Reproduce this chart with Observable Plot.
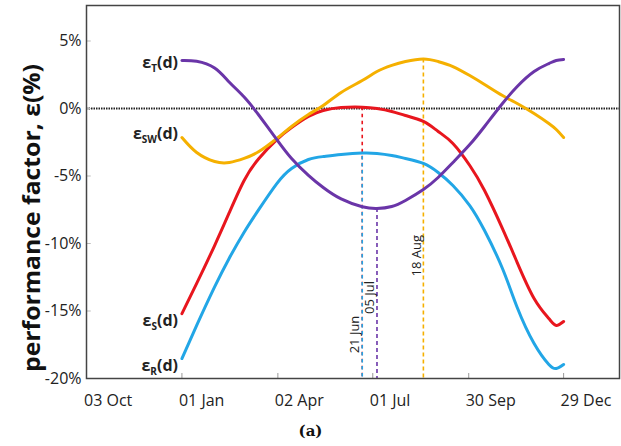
<!DOCTYPE html>
<html>
<head>
<meta charset="utf-8">
<script src="https://cdn.jsdelivr.net/npm/d3@7"></script>
<script src="https://cdn.jsdelivr.net/npm/@observablehq/plot@0.6"></script>
<style>
  html, body { margin: 0; padding: 0; background: #fff; }
  #wrap { width: 621px; height: 446px; position: relative; }
  #cap { position: absolute; left: 0; top: 422px; width: 621px; text-align: center;
         font: bold 15px "DejaVu Serif", "Liberation Serif", serif; color: #111; }
</style>
</head>
<body>
<div id="wrap"><div id="chart"></div><div id="cap">(a)</div></div>
<script>
// day of year (2015)
const days = [1,15,32,46,60,74,91,105,121,135,152,172,186,200,213,230,244,258,274,288,305,319,335,349,356,363];
// performance factors (%)
const epsS  = [-15.19,-12.96,-10.15,-7.70,-5.33,-3.70,-2.30,-1.41,-0.59,-0.15,0.07,0.10,0.00,-0.22,-0.52,-0.96,-1.70,-2.59,-4.22,-6.07,-8.89,-11.41,-14.07,-15.56,-16.07,-15.78];
const epsR  = [-18.52,-16.07,-13.22,-11.07,-9.16,-7.47,-5.56,-4.44,-3.78,-3.56,-3.41,-3.30,-3.33,-3.48,-3.70,-4.07,-4.74,-5.70,-7.19,-9.04,-11.85,-14.74,-17.41,-18.96,-19.26,-18.96];
const epsSW = [-2.15,-3.26,-3.93,-4.00,-3.70,-3.19,-2.22,-1.33,-0.44,0.22,1.19,2.07,2.74,3.19,3.48,3.67,3.48,3.11,2.44,1.78,0.96,0.37,-0.37,-1.11,-1.56,-2.15];
const epsT  = [3.56,3.50,3.00,1.95,0.85,-0.50,-2.30,-3.70,-4.95,-5.85,-6.70,-7.28,-7.41,-7.26,-6.81,-6.00,-5.11,-4.00,-2.67,-1.33,0.37,1.63,2.74,3.33,3.56,3.63];

const seriesNames  = ["S", "R", "SW", "T"];
const seriesColors = ["#e8161e", "#22a6e6", "#f5b000", "#6a35a8"];
const seriesLabelY = [-15.7, -19.1, -1.85, 3.41];

// extreme-day markers: day, series, value
const markDays   = [172, 172, 186, 230];
const markSeries = ["S", "R", "T", "SW"];
const markValues = [0.10, -3.30, -7.41, 3.67];
const markTexts  = ["21 Jun", "05 Jul", "18 Aug"];
const markTextY  = [-16.74, -14.0, -10.9];
const markTextDay = [172, 186, 230];

const xTickDates = ["2014-10-03","2015-01-01","2015-04-02","2015-07-01","2015-09-30","2015-12-29"];
const yTicks = [-20, -15, -10, -5, 0, 5];

const t = d => new Date(Date.UTC(2015, 0, d));
const allSeries = {S: epsS, R: epsR, SW: epsSW, T: epsT};
const rows = [];
seriesNames.forEach(k => days.forEach((d, i) => rows.push({series: k, date: t(d), v: allSeries[k][i]})));
const colorOf = Object.fromEntries(seriesNames.map((k, i) => [k, seriesColors[i]]));

const marks = markDays.map((d, i) => ({date: t(d), v: markValues[i], series: markSeries[i]}));
const labels = seriesNames.map((k, i) => ({date: t(1), v: seriesLabelY[i], series: k}));
const annots = markTexts.map((s, i) => ({date: t(markTextDay[i]), v: markTextY[i], s}));
const xt = xTickDates.map(s => new Date(s + "T00:00:00Z"));

const font = '"Open Sans", "Liberation Sans", sans-serif';

const plot = Plot.plot({
  width: 621, height: 420,
  marginLeft: 86, marginRight: 2, marginTop: 5, marginBottom: 42,
  style: {fontFamily: font, background: "#fff"},
  x: {type: "utc", domain: [new Date(Date.UTC(2014, 9, 2, 12)), new Date(Date.UTC(2016, 1, 20))]},
  y: {domain: [-20, 7.63]},
  marks: [
    Plot.ruleY([0], {stroke: "#222", strokeWidth: 2, strokeDasharray: "1.5,1"}),
    Plot.ruleX(marks.filter(m => m.series === "T" || m.series === "SW"), {x: "date", y1: "v", y2: -20, stroke: d => colorOf[d.series], strokeWidth: 1.6, strokeDasharray: "4,3"}),
    Plot.ruleX(marks.filter(m => m.series === "S"), {x: "date", y1: "v", y2: -20, stroke: d => colorOf[d.series], strokeWidth: 1.6, strokeDasharray: "3.5,3.5"}),
    Plot.ruleX(marks.filter(m => m.series === "R"), {x: "date", y1: "v", y2: -20, stroke: d => colorOf[d.series], strokeWidth: 1.6, strokeDasharray: "3.5,3.5", strokeDashoffset: 3.5}),
    Plot.line(rows, {x: "date", y: "v", z: "series", stroke: d => colorOf[d.series], strokeWidth: 3, curve: "natural"}),
    Plot.ruleX(xt.slice(1), {insetTop: 368, stroke: "#999", strokeWidth: 1}),
    Plot.ruleY(yTicks.slice(1), {x1: xt[0], x2: new Date(Date.UTC(2014, 9, 7)), stroke: "#bbb", strokeWidth: 1}),
    Plot.frame({stroke: "#444", strokeWidth: 1.5}),
    Plot.axisX({ticks: xt, tickFormat: d3.utcFormat("%d %b"), tickSize: 0, tickPadding: 16, textAnchor: "start", dx: -3, fontSize: 16, fill: "#222", label: null}),
    Plot.axisY({ticks: yTicks, tickFormat: d => `${d}%`, tickSize: 0, tickPadding: 5, fontSize: 16, fill: "#222", label: null}),
    Plot.text(["performance factor, ε(%)"], {frameAnchor: "left", textAnchor: "middle", dx: -54, dy: 26, rotate: -90, fontSize: 24, fontWeight: "bold", fill: "#111"}),
    Plot.text(labels, {x: "date", y: "v", text: d => "ε|" + d.series, textAnchor: "end", dx: -4, fontSize: 16, fontWeight: "bold", fill: "#222"}),
    Plot.text(annots, {x: "date", y: "v", text: "s", rotate: -90, dx: -7, fontSize: 13, fill: "#222"})
  ]
});

// build subscripts for ε labels; fit the y label to the reference length
d3.select(plot).selectAll("text").each(function() {
  const s = this.textContent;
  if (s.startsWith("ε|")) {
    const sub = s.slice(2);
    const el = d3.select(this);
    el.text(null);
    el.append("tspan").text("ε");
    el.append("tspan").attr("font-size", 10).attr("dy", 4).text(sub);
    el.append("tspan").attr("dy", -4).text("(d)");
  } else if (s === "performance factor, ε(%)") {
    d3.select(this).attr("textLength", 308).attr("lengthAdjust", "spacingAndGlyphs");
  }
});
document.getElementById("chart").appendChild(plot);
</script>
</body>
</html>
